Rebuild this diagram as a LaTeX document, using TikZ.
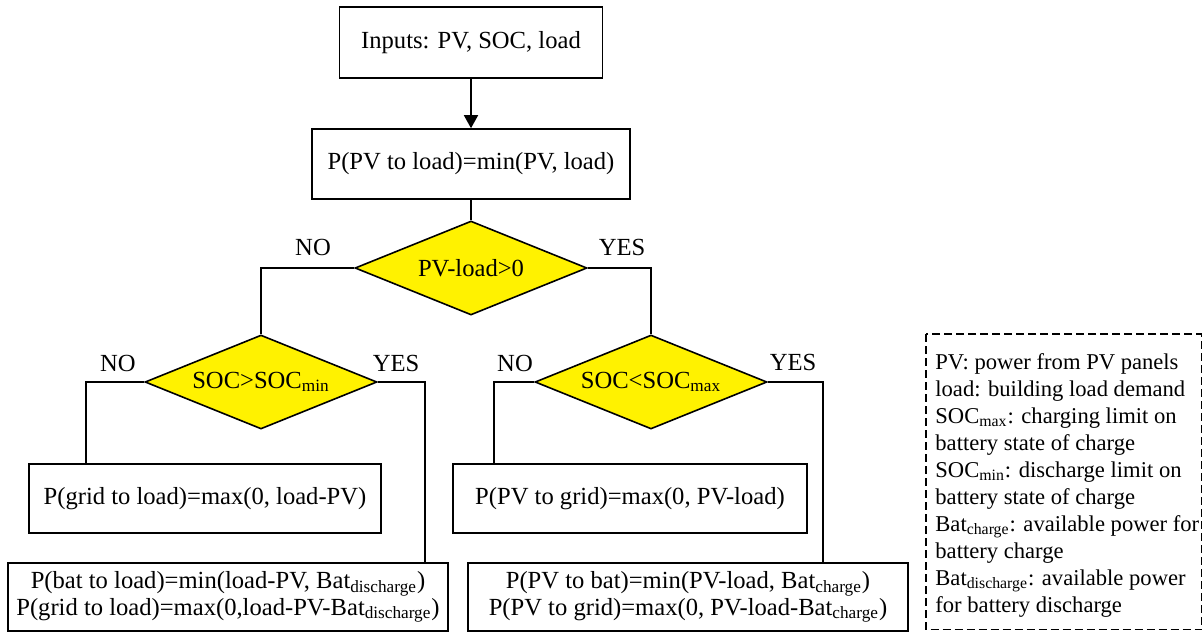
\documentclass[tikz,border=0pt]{standalone}
\usepackage{fontspec}
\setmainfont{Liberation Serif}
\usetikzlibrary{shapes.geometric,arrows.meta}

\begin{document}
\begin{tikzpicture}[x=0.5pt,y=-0.5pt,
    font=\fontsize{12.3}{11.5}\selectfont,
    box/.style={draw, line width=0.8pt, inner sep=0pt, align=center},
    decision/.style={draw, diamond, aspect=2.5, fill=yellow, line width=0.8pt, inner sep=0pt,
        minimum width=116pt, minimum height=47pt},
    link/.style={line width=0.8pt}]
    \useasboundingbox (0,0) rectangle (1203,632);

    % Inputs and first split
    \node[box, minimum width=131.5pt, minimum height=35.5pt] (inputs) at (471,42.5) {Inputs: PV, SOC, load};
    \node[box, minimum width=159pt, minimum height=35pt] (pvload) at (471,164) {P(PV to load)=min(PV, load)};
    \node[decision] (pvsurplus) at (471,268) {PV-load>0};

    % Battery checks
    \node[decision] (socmin) at (261,382) {SOC>SOC\textsubscript{min}};
    \node[decision] (socmax) at (651,382) {SOC<SOC\textsubscript{max}};

    % Results
    \node[box, minimum width=176pt, minimum height=34.5pt] (gridload) at (205,498.5) {P(grid to load)=max(0, load-PV)};
    \node[box, minimum width=177pt, minimum height=34.5pt] (pvgrid) at (630,498.5) {P(PV to grid)=max(0, PV-load)};
    \node[box, minimum width=220pt, minimum height=34pt] (batload) at (228,597)
        {P(bat to load)=min(load-PV, Bat\textsubscript{discharge})\\P(grid to load)=max(0,load-PV-Bat\textsubscript{discharge})};
    \node[box, minimum width=220pt, minimum height=34pt] (pvbat) at (688,597)
        {P(PV to bat)=min(PV-load, Bat\textsubscript{charge})\\P(PV to grid)=max(0, PV-load-Bat\textsubscript{charge})};

    % NO / YES labels
    \node (no1) at (313,247) {NO};
    \node (yes1) at (622,247) {YES};
    \node (no2) at (118,363) {NO};
    \node (yes2) at (396,363) {YES};
    \node (no3) at (515,363) {NO};
    \node (yes3) at (793,362) {YES};

    % Connectors
    \draw[link, -{Triangle[length=6.5pt,width=7pt]}] (inputs) -- (pvload);
    \draw[link] (pvload) -- (pvsurplus);
    \draw[link] (pvsurplus.west) -| (socmin.north);
    \draw[link] (pvsurplus.east) -| (socmax.north);
    \draw[link] (socmin.west) -| ([xshift=29pt]gridload.north west);
    \draw[link] (socmin.east) -| ([xshift=-12pt]batload.north east);
    \draw[link] (socmax.west) -| ([xshift=21pt]pvgrid.north west);
    \draw[link] (socmax.east) -| ([xshift=-43pt]pvbat.north east);

    % Legend
    \draw[line width=0.65pt, dash pattern=on 4pt off 2pt] (926,334) rectangle (1201.5,629.5);
    \node[anchor=north west, inner sep=0pt, align=left, font=\fontsize{11.3}{13.5}\selectfont] (legend) at (935,353)
        {PV: power from PV panels\\
         load: building load demand\\
         SOC\textsubscript{max}: charging limit on\\
         battery state of charge\\
         SOC\textsubscript{min}: discharge limit on\\
         battery state of charge\\
         Bat\textsubscript{charge}: available power for\\
         battery charge\\
         Bat\textsubscript{discharge}: available power\\
         for battery discharge};
\end{tikzpicture}
\end{document}
